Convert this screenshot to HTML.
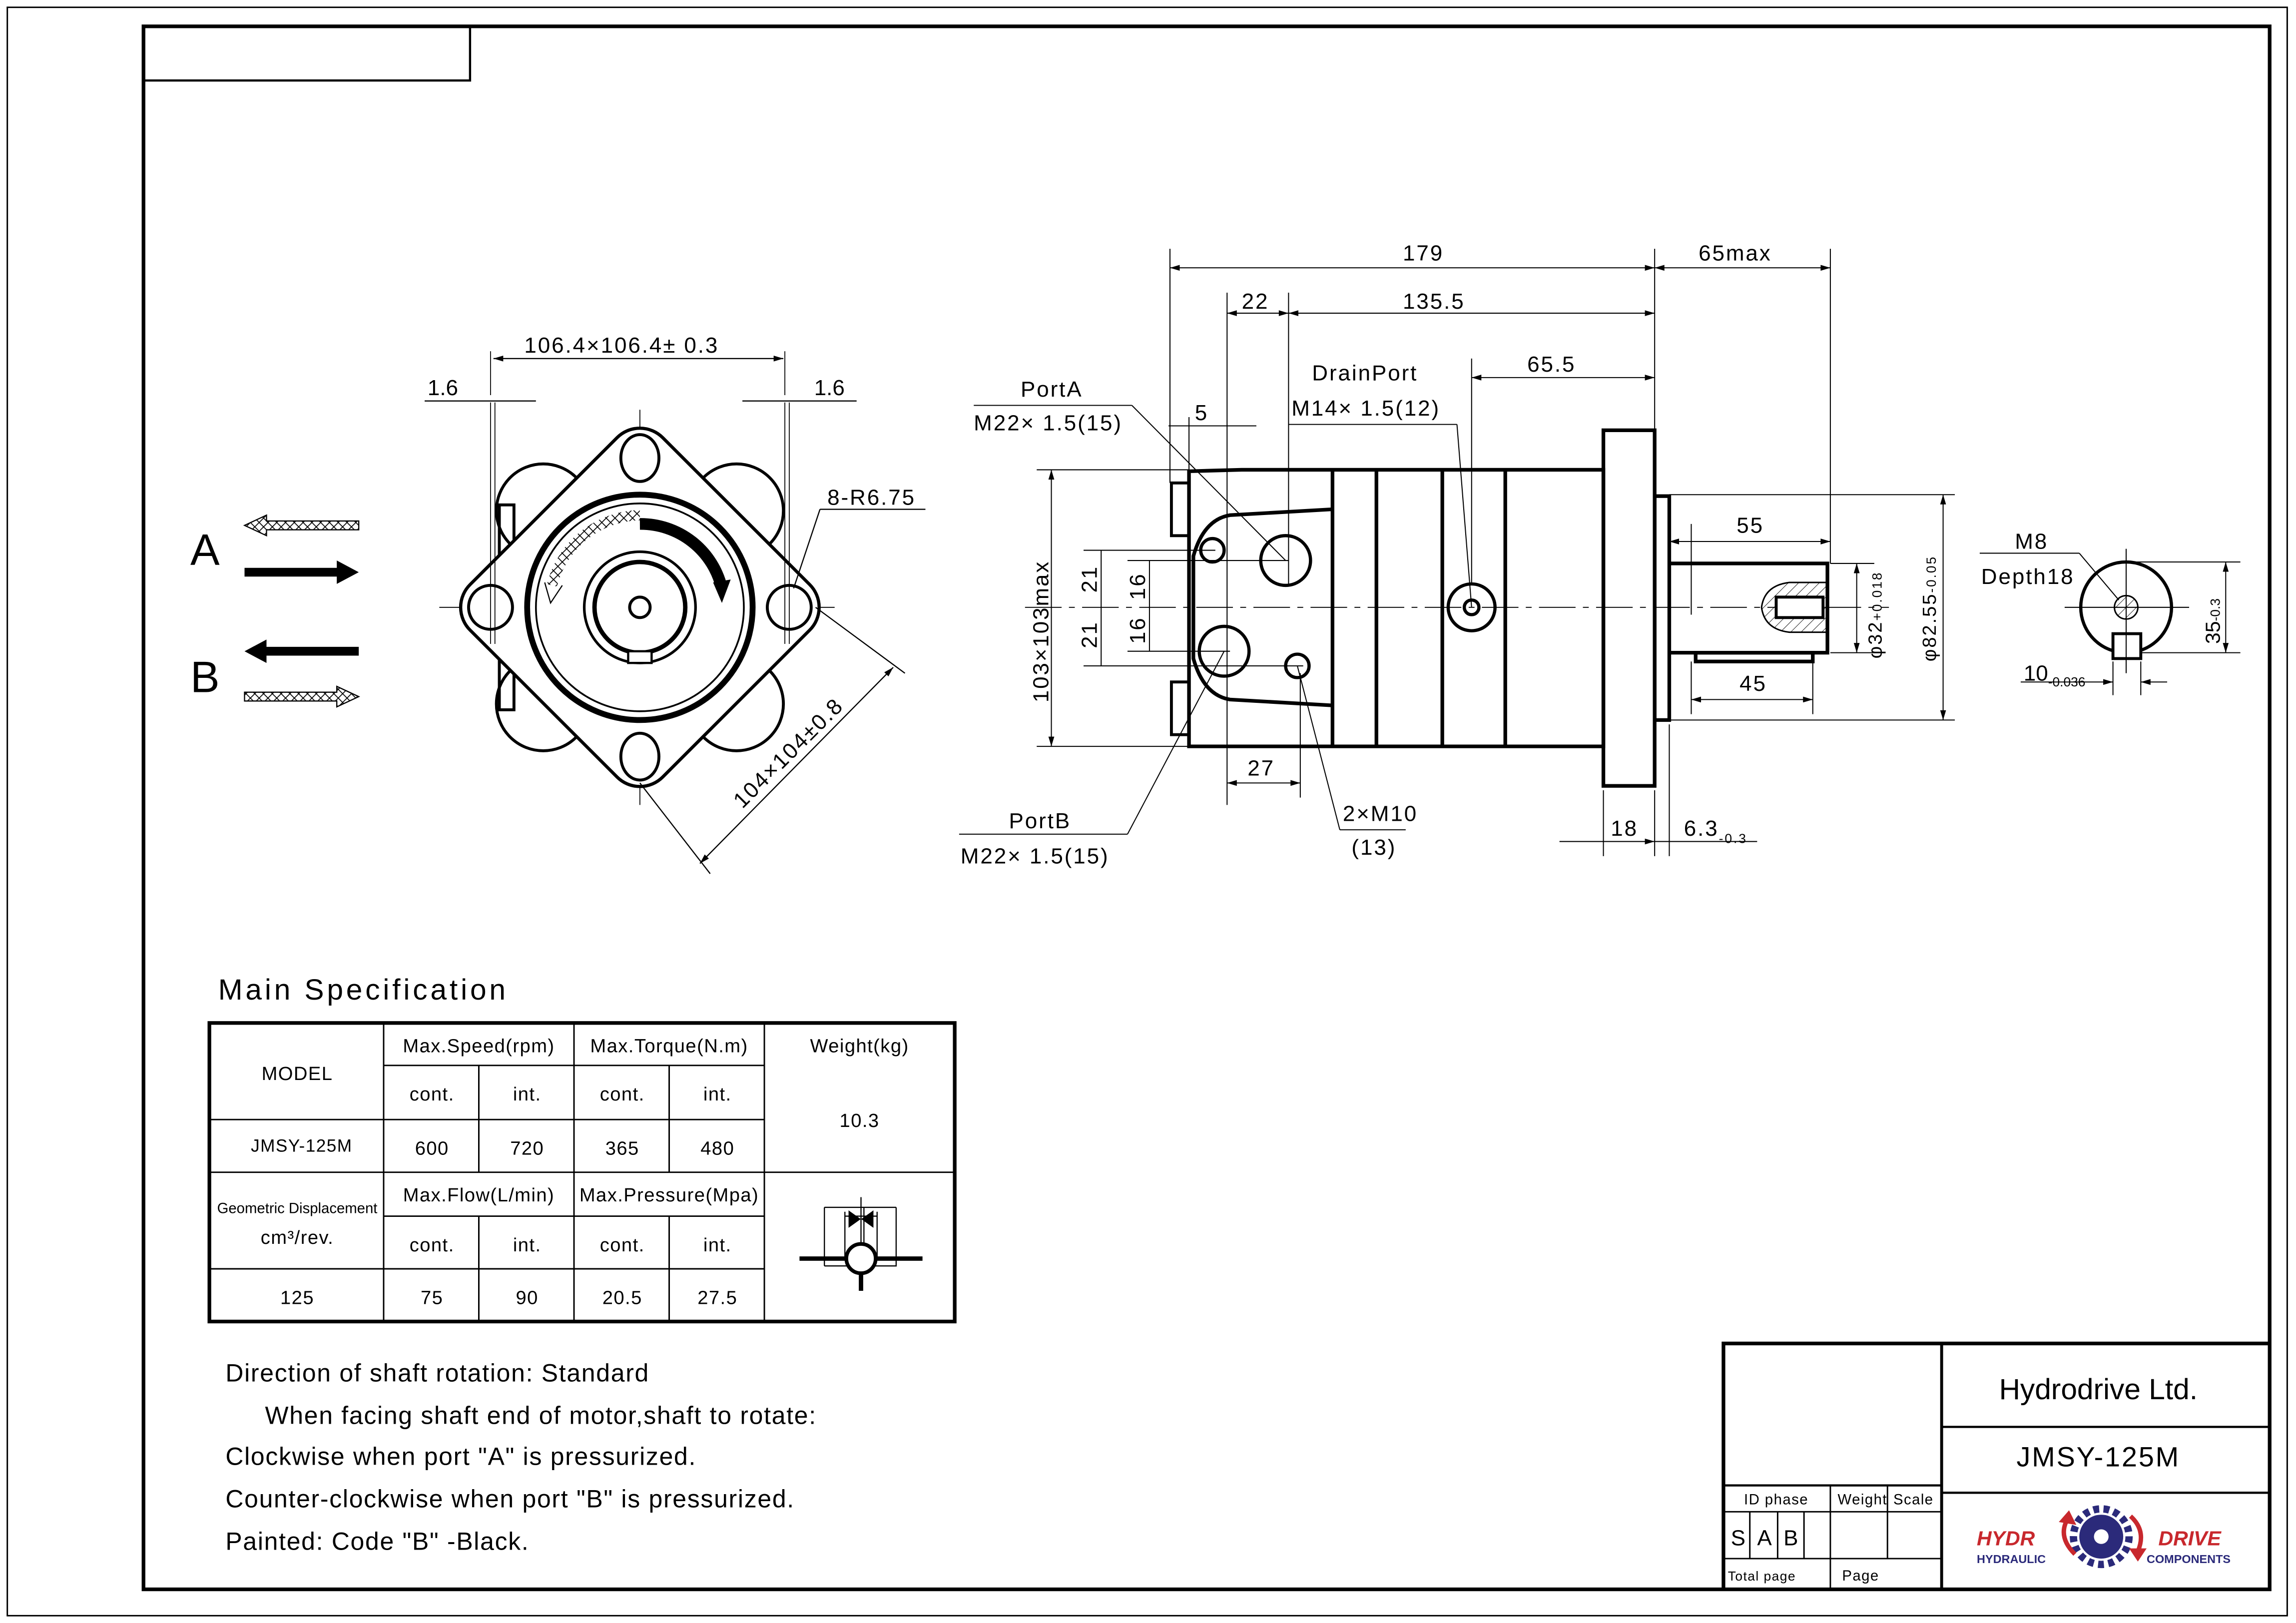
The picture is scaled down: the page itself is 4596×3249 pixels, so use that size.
<!DOCTYPE html>
<html><head><meta charset="utf-8"><style>
html,body{margin:0;padding:0;background:#fff;}
svg{display:block;}
text{font-family:"Liberation Sans Narrow","Liberation Sans",sans-serif;fill:#000;}
</style></head><body>
<svg width="4596" height="3249" viewBox="0 0 1568 1109" preserveAspectRatio="none" xmlns="http://www.w3.org/2000/svg">
<defs>
<marker id="ar" viewBox="0 0 10 6" refX="10" refY="3" markerWidth="8" markerHeight="4" orient="auto-start-reverse" markerUnits="userSpaceOnUse"><path d="M0,0L10,3L0,6z" fill="#000"/></marker>
<pattern id="hx" width="6" height="6" patternUnits="userSpaceOnUse"><path d="M0,0L6,6M6,0L0,6" stroke="#000" stroke-width="0.6"/></pattern>
<pattern id="hh" width="5" height="5" patternUnits="userSpaceOnUse" patternTransform="rotate(45)"><path d="M0,0V5" stroke="#000" stroke-width="0.6"/></pattern>
</defs>
<rect width="1568" height="1109" fill="#fff"/>
<!-- borders -->
<rect x="5" y="5" width="1557" height="1099" fill="none" stroke="#000" stroke-width="1"/>
<rect x="98" y="18" width="1452" height="1068" fill="none" stroke="#000" stroke-width="2.5"/>
<rect x="98" y="18" width="223" height="37" fill="none" stroke="#000" stroke-width="1.5"/>

<!-- A/B arrows -->
<text x="130" y="386" font-size="30">A</text>
<text x="130" y="473" font-size="30">B</text>
<path d="M245,356H182V352L167,359L182,366V362H245Z" fill="url(#hx)" stroke="#000" stroke-width="0.8"/>
<path d="M167,388H230V383L245,391L230,399V394H167Z" fill="#000"/>
<path d="M245,442H182V437L167,445L182,453V448H245Z" fill="#000"/>
<path d="M167,473H230V469L245,476L230,483V479H167Z" fill="url(#hx)" stroke="#000" stroke-width="0.8"/>

<!-- front view -->
<g stroke="#000" fill="none">
<line x1="437" y1="280" x2="437" y2="550" stroke-width="0.6" stroke-dasharray="30,4,3,4"/>
<line x1="300" y1="415" x2="570" y2="415" stroke-width="0.6"/>
<g stroke-width="2">
<circle cx="503" cy="349" r="32"/><circle cx="371" cy="349" r="32"/><circle cx="503" cy="481" r="32"/><circle cx="371" cy="481" r="32"/>
<rect x="341" y="345" width="10" height="140"/>
</g>
<rect x="-93" y="-93" width="186" height="186" rx="22" transform="translate(437,415) rotate(45)" fill="#fff" stroke-width="2.2"/>
<g stroke-width="2">
<ellipse cx="437" cy="313" rx="13" ry="16"/><ellipse cx="437" cy="517" rx="13" ry="16"/>
<circle cx="335" cy="415" r="15"/><circle cx="539" cy="415" r="15"/>
</g>
<circle cx="437" cy="415" r="77" stroke-width="4"/>
<circle cx="437" cy="415" r="71" stroke-width="1.2"/>
<circle cx="437" cy="415" r="38" stroke-width="1.8"/>
<circle cx="437" cy="415" r="31" stroke-width="3"/>
<circle cx="437" cy="415" r="7" stroke-width="2"/>
<rect x="429" y="445" width="16" height="8" stroke-width="1.5" fill="#fff"/>
<path d="M437,358A57,57 0 0 1 493,402" stroke-width="8"/>
<path d="M487,398L493,412L499,396Z" fill="#000" stroke="none"/>
<path d="M437,352A63,63 0 0 0 377,400" stroke-width="7" stroke="url(#hx)"/>
<path d="M372,398L376,412L384,400" stroke-width="0.8"/>
<g stroke-width="0.6">
<line x1="335" y1="275" x2="335" y2="440"/><line x1="338" y1="275" x2="338" y2="440"/>
<line x1="536" y1="275" x2="536" y2="440"/><line x1="539" y1="275" x2="539" y2="440"/>
<line x1="335" y1="240" x2="335" y2="270"/><line x1="536" y1="240" x2="536" y2="270"/>
</g>
</g>
<g stroke="#000" stroke-width="0.8">
<line x1="337" y1="245" x2="535" y2="245" marker-start="url(#ar)" marker-end="url(#ar)"/>
<line x1="290" y1="274" x2="366" y2="274"/><line x1="507" y1="274" x2="585" y2="274"/>
<line x1="560" y1="348" x2="632" y2="348"/><line x1="560" y1="348" x2="542" y2="402"/>
<line x1="557" y1="415" x2="618" y2="460"/><line x1="437" y1="535" x2="485" y2="597"/>
<line x1="610" y1="456" x2="478" y2="590" marker-start="url(#ar)" marker-end="url(#ar)"/>
</g>
<text x="358" y="241" font-size="15" letter-spacing="1">106.4×106.4± 0.3</text>
<text x="292" y="270" font-size="15">1.6</text>
<text x="556" y="270" font-size="15">1.6</text>
<text x="565" y="345" font-size="15" letter-spacing="1">8-R6.75</text>
<text x="0" y="0" font-size="15" letter-spacing="1" transform="translate(507,553) rotate(-45)">104×104±0.8</text>

<!-- side view -->
<g stroke="#000" fill="none">
<line x1="700" y1="415" x2="1290" y2="415" stroke-width="0.6" stroke-dasharray="25,5,4,5"/>
<g stroke-width="2.5">
<path d="M812,322L848,321H1095V510H812Z"/>
<line x1="910" y1="321" x2="910" y2="510"/><line x1="940" y1="321" x2="940" y2="510"/><line x1="985" y1="321" x2="985" y2="510"/><line x1="1028" y1="321" x2="1028" y2="510"/>
<path d="M910,348L840,352Q822,355 815,380V450Q822,475 840,478L910,482"/>
<rect x="1095" y="294" width="35" height="243"/>
<rect x="1130" y="339" width="10" height="153"/>
<path d="M1140,385H1248V446H1140"/>
<rect x="1158" y="446" width="80" height="6"/>
<path d="M800,330h12v36h-12zM800,466h12v36h-12z" stroke-width="2"/>
</g>
<path d="M1248,398H1222Q1205,400 1203,415Q1205,430 1222,432H1248Z" fill="url(#hh)" stroke-width="1"/>
<rect x="1213" y="408" width="32" height="14" fill="#fff" stroke-width="2"/>
<g stroke-width="2.2">
<circle cx="828" cy="376" r="8"/><circle cx="878" cy="383" r="17"/><circle cx="836" cy="445" r="17"/><circle cx="886" cy="455" r="8"/>
<circle cx="1005" cy="415" r="16"/><circle cx="1005" cy="415" r="5"/>
</g>
</g>
<g stroke="#000" stroke-width="0.7" fill="none">
<line x1="799" y1="170" x2="799" y2="330"/><line x1="1130" y1="170" x2="1130" y2="294"/><line x1="1250" y1="170" x2="1250" y2="385"/>
<line x1="838" y1="200" x2="838" y2="550"/><line x1="880" y1="200" x2="880" y2="400"/>
<line x1="1005" y1="245" x2="1005" y2="400"/><line x1="812" y1="285" x2="812" y2="322"/>
<line x1="799" y1="183" x2="1130" y2="183" marker-start="url(#ar)" marker-end="url(#ar)"/>
<line x1="1130" y1="183" x2="1250" y2="183" marker-start="url(#ar)" marker-end="url(#ar)"/>
<line x1="838" y1="214" x2="880" y2="214" marker-start="url(#ar)" marker-end="url(#ar)"/>
<line x1="880" y1="214" x2="1130" y2="214" marker-start="url(#ar)" marker-end="url(#ar)"/>
<line x1="1005" y1="258" x2="1130" y2="258" marker-start="url(#ar)" marker-end="url(#ar)"/>
<line x1="798" y1="291" x2="858" y2="291"/>
<line x1="665" y1="277" x2="773" y2="277"/><line x1="773" y1="277" x2="878" y2="383"/>
<line x1="880" y1="290" x2="995" y2="290"/><line x1="995" y1="290" x2="1005" y2="415"/>
<line x1="655" y1="570" x2="770" y2="570"/><line x1="770" y1="570" x2="836" y2="445"/>
<line x1="915" y1="567" x2="960" y2="567"/><line x1="915" y1="567" x2="886" y2="455"/>
<line x1="708" y1="321" x2="812" y2="321"/><line x1="708" y1="510" x2="812" y2="510"/>
<line x1="718" y1="321" x2="718" y2="510" marker-start="url(#ar)" marker-end="url(#ar)"/>
<line x1="740" y1="376" x2="830" y2="376"/><line x1="740" y1="455" x2="890" y2="455"/>
<line x1="770" y1="383" x2="880" y2="383"/><line x1="770" y1="445" x2="840" y2="445"/>
<line x1="752" y1="376" x2="752" y2="455"/><line x1="785" y1="383" x2="785" y2="445"/>
<line x1="888" y1="460" x2="888" y2="545"/>
<line x1="838" y1="535" x2="888" y2="535" marker-start="url(#ar)" marker-end="url(#ar)"/>
<line x1="1130" y1="540" x2="1130" y2="585"/><line x1="1140" y1="495" x2="1140" y2="585"/><line x1="1095" y1="540" x2="1095" y2="585"/>
<line x1="1065" y1="575" x2="1130" y2="575" marker-end="url(#ar)"/><line x1="1130" y1="575" x2="1200" y2="575"/>
<line x1="1140" y1="338" x2="1335" y2="338"/><line x1="1140" y1="492" x2="1335" y2="492"/>
<line x1="1250" y1="385" x2="1280" y2="385"/><line x1="1250" y1="446" x2="1280" y2="446"/>
<line x1="1327" y1="338" x2="1327" y2="492" marker-start="url(#ar)" marker-end="url(#ar)"/>
<line x1="1268" y1="385" x2="1268" y2="446" marker-start="url(#ar)" marker-end="url(#ar)"/>
<line x1="1155" y1="358" x2="1155" y2="420"/><line x1="1238" y1="452" x2="1238" y2="488"/><line x1="1155" y1="452" x2="1155" y2="488"/>
<line x1="1140" y1="370" x2="1250" y2="370" marker-start="url(#ar)" marker-end="url(#ar)"/>
<line x1="1155" y1="478" x2="1238" y2="478" marker-start="url(#ar)" marker-end="url(#ar)"/>
</g>
<g font-size="15" letter-spacing="1">
<text x="958" y="178">179</text><text x="1160" y="178">65max</text>
<text x="848" y="211">22</text><text x="958" y="211">135.5</text>
<text x="1043" y="254">65.5</text>
<text x="896" y="260">DrainPort</text><text x="882" y="284">M14× 1.5(12)</text>
<text x="697" y="271">PortA</text><text x="665" y="294">M22× 1.5(15)</text>
<text x="816" y="287">5</text>
<text x="689" y="566">PortB</text><text x="656" y="590">M22× 1.5(15)</text>
<text x="917" y="561">2×M10</text><text x="923" y="584">(13)</text>
<text x="852" y="530">27</text>
<text x="1100" y="571">18</text><text x="1150" y="571">6.3<tspan font-size="9" dy="5">-0.3</tspan></text>
<text x="1186" y="364">55</text><text x="1188" y="472">45</text>
<text transform="translate(716,480) rotate(-90)">103×103max</text>
<text transform="translate(749,405) rotate(-90)">21</text><text transform="translate(749,443) rotate(-90)">21</text>
<text transform="translate(782,410) rotate(-90)">16</text><text transform="translate(782,440) rotate(-90)">16</text>
<text transform="translate(1285,450) rotate(-90)" font-size="13">φ32<tspan font-size="9">+0.018</tspan></text>
<text transform="translate(1322,452) rotate(-90)" font-size="13">φ82.55<tspan font-size="9">-0.05</tspan></text>
</g>

<!-- shaft end view -->
<g stroke="#000" fill="none">
<circle cx="1452" cy="415" r="31" stroke-width="2.2"/>
<circle cx="1452" cy="415" r="8" fill="url(#hh)" stroke-width="1"/>
<rect x="1443" y="433" width="19" height="17" fill="#fff" stroke-width="2"/>
<g stroke-width="0.7">
<line x1="1410" y1="415" x2="1495" y2="415"/><line x1="1452" y1="375" x2="1452" y2="460"/>
<line x1="1352" y1="378" x2="1420" y2="378"/><line x1="1420" y1="378" x2="1447" y2="410"/>
<line x1="1452" y1="384" x2="1530" y2="384"/><line x1="1462" y1="446" x2="1530" y2="446"/>
<line x1="1520" y1="384" x2="1520" y2="446" marker-start="url(#ar)" marker-end="url(#ar)"/>
<line x1="1443" y1="452" x2="1443" y2="475"/><line x1="1462" y1="452" x2="1462" y2="475"/>
<line x1="1380" y1="466" x2="1443" y2="466" marker-end="url(#ar)"/><line x1="1462" y1="466" x2="1480" y2="466" marker-start="url(#ar)"/>
</g>
</g>
<text x="1376" y="375" font-size="15" letter-spacing="1">M8</text>
<text x="1353" y="399" font-size="15" letter-spacing="1">Depth18</text>
<text x="1382" y="465" font-size="15">10<tspan font-size="9" dy="4">-0.036</tspan></text>
<text transform="translate(1516,440) rotate(-90)" font-size="14">35<tspan font-size="9">-0.3</tspan></text>

<!-- Spec table -->
<text x="149" y="683" font-size="20" letter-spacing="2">Main Specification</text>
<g stroke="#000" fill="none">
<rect x="143" y="699" width="509" height="204" stroke-width="2.5"/>
<g stroke-width="1">
<line x1="262" y1="699" x2="262" y2="903"/><line x1="392" y1="699" x2="392" y2="903"/><line x1="522" y1="699" x2="522" y2="903"/>
<line x1="327" y1="728" x2="327" y2="801"/><line x1="457" y1="728" x2="457" y2="801"/>
<line x1="327" y1="831" x2="327" y2="903"/><line x1="457" y1="831" x2="457" y2="903"/>
<line x1="262" y1="728" x2="522" y2="728"/><line x1="143" y1="765" x2="522" y2="765"/>
<line x1="143" y1="801" x2="652" y2="801"/>
<line x1="262" y1="831" x2="522" y2="831"/><line x1="143" y1="867" x2="522" y2="867"/>
</g>
<path d="M563,825H590V870M577,828V860M599,828V860M577,831H599M563,825V865M612,825V865H563M612,825H590" stroke-width="0.8"/>
<line x1="546" y1="860" x2="630" y2="860" stroke-width="3"/>
<line x1="588" y1="860" x2="588" y2="882" stroke-width="3"/>
<circle cx="588" cy="860" r="10" fill="#fff" stroke-width="2.5"/>
<line x1="588" y1="818" x2="588" y2="850" stroke-width="0.8"/>
<path d="M580,828L587,833L580,838ZM596,828L589,833L596,838Z" fill="#000"/>
</g>
<g font-size="13" text-anchor="middle" letter-spacing="0.5">
<text x="203" y="738">MODEL</text>
<text x="327" y="719">Max.Speed(rpm)</text><text x="457" y="719">Max.Torque(N.m)</text><text x="587" y="719">Weight(kg)</text>
<text x="295" y="752">cont.</text><text x="360" y="752">int.</text><text x="425" y="752">cont.</text><text x="490" y="752">int.</text>
<text x="587" y="770">10.3</text>
<text x="206" y="787" font-size="12">JMSY-125M</text>
<text x="295" y="789">600</text><text x="360" y="789">720</text><text x="425" y="789">365</text><text x="490" y="789">480</text>
<text x="203" y="829" font-size="10" letter-spacing="0">Geometric Displacement</text>
<text x="203" y="850">cm³/rev.</text>
<text x="327" y="821">Max.Flow(L/min)</text><text x="457" y="821">Max.Pressure(Mpa)</text>
<text x="295" y="855">cont.</text><text x="360" y="855">int.</text><text x="425" y="855">cont.</text><text x="490" y="855">int.</text>
<text x="203" y="891">125</text><text x="295" y="891">75</text><text x="360" y="891">90</text><text x="425" y="891">20.5</text><text x="490" y="891">27.5</text>
</g>

<!-- notes -->
<g font-size="17" letter-spacing="0.6">
<text x="154" y="944">Direction of shaft rotation: Standard</text>
<text x="181" y="973">When facing shaft end of motor,shaft to rotate:</text>
<text x="154" y="1001">Clockwise when port "A" is pressurized.</text>
<text x="154" y="1030">Counter-clockwise when port "B" is pressurized.</text>
<text x="154" y="1059">Painted: Code "B" -Black.</text>
</g>

<!-- title block -->
<g stroke="#000" fill="none">
<path d="M1177,1086V918H1550" stroke-width="2.5"/>
<line x1="1326" y1="918" x2="1326" y2="1086" stroke-width="2"/>
<line x1="1326" y1="975" x2="1550" y2="975" stroke-width="1.5"/>
<line x1="1326" y1="1020" x2="1550" y2="1020" stroke-width="1.5"/>
<line x1="1177" y1="1015" x2="1326" y2="1015" stroke-width="1.5"/>
<g stroke-width="1">
<line x1="1177" y1="1033" x2="1326" y2="1033"/><line x1="1177" y1="1065" x2="1326" y2="1065"/>
<line x1="1250" y1="1015" x2="1250" y2="1086"/><line x1="1289" y1="1015" x2="1289" y2="1065"/>
<line x1="1195" y1="1033" x2="1195" y2="1065"/><line x1="1214" y1="1033" x2="1214" y2="1065"/><line x1="1232" y1="1033" x2="1232" y2="1065"/>
</g>
</g>
<text x="1433" y="956" font-size="20" text-anchor="middle" font-family="Liberation Sans">Hydrodrive Ltd.</text>
<text x="1433" y="1002" font-size="19" text-anchor="middle" font-family="Liberation Sans" letter-spacing="1">JMSY-125M</text>
<g font-size="10" letter-spacing="0.5">
<text x="1191" y="1028">ID phase</text><text x="1255" y="1028">Weight</text><text x="1293" y="1028">Scale</text>
<text x="1180" y="1080" font-size="9">Total page</text><text x="1258" y="1080">Page</text>
</g>
<g font-size="15"><text x="1182" y="1056">S</text><text x="1200" y="1056">A</text><text x="1218" y="1056">B</text></g>
<!-- logo -->
<g>
<text x="1350" y="1056" font-size="14" font-weight="bold" font-style="italic" fill="#c8282d" font-family="Liberation Sans" style="fill:#c8282d">HYDR</text>
<text x="1474" y="1056" font-size="14" font-weight="bold" font-style="italic" font-family="Liberation Sans" style="fill:#c8282d">DRIVE</text>
<text x="1350" y="1068" font-size="8" font-weight="bold" font-family="Liberation Sans" style="fill:#2b2a7a">HYDRAULIC</text>
<text x="1466" y="1068" font-size="8" font-weight="bold" font-family="Liberation Sans" style="fill:#2b2a7a">COMPONENTS</text>
<circle cx="1435" cy="1050" r="15" fill="#2b2a7a"/>
<circle cx="1435" cy="1050" r="19" fill="none" stroke="#2b2a7a" stroke-width="5" stroke-dasharray="4,3"/>
<circle cx="1435" cy="1050" r="5" fill="#fff"/>
<path d="M1417,1062Q1405,1050 1412,1038" fill="none" stroke="#c8282d" stroke-width="3"/>
<path d="M1406,1040L1413,1032L1418,1042Z" fill="#c8282d"/>
<path d="M1455,1036Q1466,1046 1460,1060" fill="none" stroke="#c8282d" stroke-width="3"/>
<path d="M1454,1058L1460,1067L1466,1058Z" fill="#c8282d"/>
</g>
</svg>
</body></html>
